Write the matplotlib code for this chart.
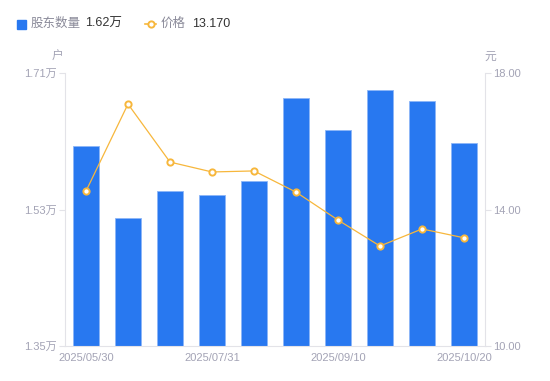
import matplotlib
matplotlib.use("Agg")
import matplotlib.pyplot as plt
from matplotlib.lines import Line2D

plt.rcParams['font.family'] = ['Liberation Sans', 'Noto Sans CJK SC', 'DejaVu Sans']

dates = ['2025/05/30', '2025/06/20', '2025/06/30', '2025/07/31', '2025/08/15',
         '2025/08/29', '2025/09/10', '2025/09/19', '2025/09/30', '2025/10/20']
holders = [1.614, 1.519, 1.554, 1.549, 1.568, 1.677, 1.635, 1.688, 1.673, 1.618]  # 万户
price = [14.54, 17.09, 15.39, 15.10, 15.13, 14.51, 13.69, 12.93, 13.43, 13.17]

bar_color = '#2878F0'
line_color = '#F7B73C'
grey = '#A3A3B5'
axis_grey = '#E3E3E8'

fig = plt.figure(figsize=(5.5, 3.81), dpi=100)
ax = fig.add_axes([65 / 550, 35 / 381, 420 / 550, 273 / 381])
x = list(range(len(dates)))
ax.bar(x, holders, width=0.6, color=bar_color, edgecolor='#8DB6F7', linewidth=0.6, zorder=2)
ax.set_xlim(-0.5, len(dates) - 0.5)
ax.set_ylim(1.35, 1.71)
ax.set_yticks([1.35, 1.53, 1.71])
ax.set_yticklabels(['1.35万', '1.53万', '1.71万'])
ax.set_xticks(x[::3])
ax.set_xticklabels(dates[::3])

ax2 = ax.twinx()
ax2.plot(x, price, color=line_color, linewidth=0.9, marker='o', markersize=4.5,
         markerfacecolor='white', markeredgecolor=line_color, markeredgewidth=1.4, zorder=3)
ax2.set_ylim(10, 18)
ax2.set_yticks([10, 14, 18])
ax2.set_yticklabels(['10.00', '14.00', '18.00'])

for a in (ax, ax2):
    for s in a.spines.values():
        s.set_visible(False)
    a.tick_params(colors=grey, labelsize=8, length=4, width=0.8, color=axis_grey, pad=2)
ax.spines['left'].set_visible(True)
ax.spines['left'].set_color(axis_grey)
ax.spines['bottom'].set_visible(True)
ax.spines['bottom'].set_color(axis_grey)
ax2.spines['right'].set_visible(True)
ax2.spines['right'].set_color(axis_grey)
ax.tick_params(axis='x', length=0, pad=5)
ax2.tick_params(axis='x', length=0)

fig.text(58 / 550, 1 - 57 / 381, '户', color=grey, fontsize=8.5, ha='center', va='center')
fig.text(490 / 550, 1 - 57 / 381, '元', color=grey, fontsize=8.5, ha='center', va='center')

# legend
ly = 1 - 24 / 381
fig.patches.append(plt.Rectangle((17 / 550, 1 - 29 / 381), 9 / 550, 9 / 381,
                                 transform=fig.transFigure, color=bar_color))
fig.text(31 / 550, ly, '股东数量', color='#8A8A99', fontsize=9, va='center')
fig.text(85 / 550, ly, f'{holders[-1]:.2f}万', color='#333333', fontsize=9, va='center')
fig.lines.append(Line2D([145 / 550, 156 / 550], [ly, ly], transform=fig.transFigure,
                        color=line_color, linewidth=1.2))
fig.lines.append(Line2D([150.5 / 550], [ly], transform=fig.transFigure, linestyle='none',
                        marker='o', markersize=4.5, markerfacecolor='white',
                        markeredgecolor=line_color, markeredgewidth=1.4))
fig.text(161 / 550, ly, '价格', color='#8A8A99', fontsize=9, va='center')
fig.text(192 / 550, ly, f'{price[-1]:.3f}', color='#333333', fontsize=9, va='center')

fig.savefig('out.png', dpi=100)
